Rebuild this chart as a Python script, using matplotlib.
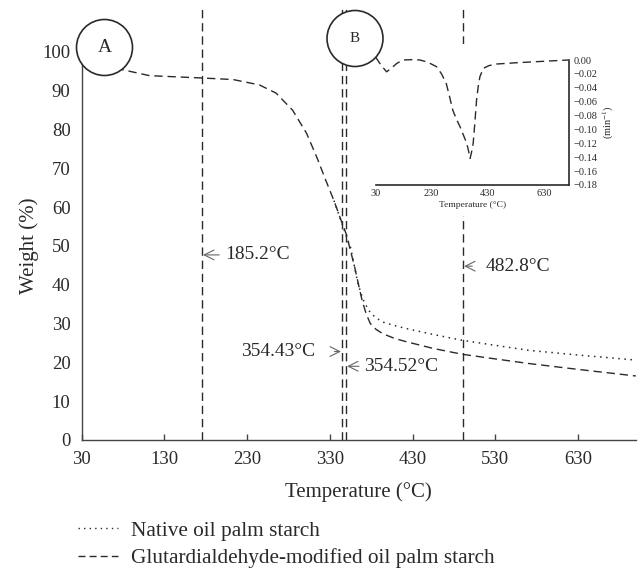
import numpy as np
import matplotlib.pyplot as plt
from matplotlib.patches import Ellipse, Rectangle
from matplotlib.lines import Line2D
from matplotlib.ticker import FuncFormatter

plt.rcParams['font.family'] = ['Liberation Serif', 'DejaVu Serif']
plt.rcParams['mathtext.fontset'] = 'stix'

# TGA curves (temperature in degC, weight in %)
temp_mod = [40, 60, 80, 112, 175, 213, 245, 265, 285, 302, 315, 325, 335, 343, 350,
            355, 360, 365, 369, 374, 379, 386, 394, 408, 423, 455, 490, 530, 571, 630, 700]
weight_mod = [97.5, 96.5, 95.4, 93.9, 93.3, 92.9, 91.5, 89.4, 85.0, 79.0, 72.5, 67.0, 61.7, 57.0, 53.0,
              48.8, 44.6, 39.8, 36.0, 32.5, 30.0, 28.5, 27.4, 26.2, 25.3, 23.6, 22.1, 20.9, 19.7, 18.2, 16.5]

temp_nat = [335, 345, 350, 355, 360, 364, 370, 377, 385, 394, 408, 423, 455, 490, 530, 571, 630, 700]
weight_nat = [61.7, 55.6, 52.5, 49.7, 44.5, 40.3, 36.3, 33.4, 31.6, 30.4, 29.5, 28.7, 27.2, 25.7, 24.4, 23.1, 21.9, 20.6]

# DTG inset
temp_dtg = [30, 50, 69, 85, 105, 127, 160, 188, 215, 247, 265, 282, 295, 305, 318, 331, 343,
            355, 362, 367, 372, 378, 384, 390, 396, 402, 414, 435, 461, 530, 605, 718]
dtg = [0.004, -0.008, -0.017, -0.012, -0.005, 0.0, 0.0005, 0.0, -0.003, -0.0096, -0.020, -0.034, -0.055,
       -0.072, -0.085, -0.096, -0.108, -0.120, -0.132, -0.1417, -0.133, -0.120, -0.090, -0.058, -0.038,
       -0.024, -0.012, -0.008, -0.0058, -0.004, -0.0024, 0.0]

# marked temperatures: drawn position and printed label
vline_pos = [175.0, 345.2, 349.2, 490.7]
vline_labels = ['185.2°C', '354.43°C', '354.52°C', '482.8°C']

W, H = 638, 569
fig = plt.figure(figsize=(W / 100, H / 100), dpi=100)

def fx(px):
    return px / W

def fy(py):
    return 1 - py / H

ax = fig.add_axes([fx(81.7), fy(440), fx(635.8) - fx(81.7), fy(9.3) - fy(440)])
ax.set_zorder(0)
ink = '#2a2a2a'

ax.plot(temp_mod, weight_mod, color=ink, lw=1.0, dashes=(6, 3.5))
ax.plot(temp_nat, weight_nat, color=ink, lw=1.1, linestyle=(0, (1, 3)))
for p in vline_pos:
    ax.axvline(p, color=ink, lw=1.0, dashes=(6, 3.5))

ax.set_xlim(30, 700)
ax.set_ylim(0, 111)
ax.set_xticks(np.arange(30, 631, 100))
ax.set_yticks(np.arange(0, 101, 10))
ax.spines['top'].set_visible(False)
ax.spines['right'].set_visible(False)
ax.spines['left'].set_bounds(0, 100)
for s in ['left', 'bottom']:
    ax.spines[s].set_color('#444444')
    ax.spines[s].set_linewidth(1.0)
ax.tick_params(axis='x', direction='in', length=4, width=1, color='#444444',
               labelsize=13.5, pad=8, labelcolor=ink)
ax.tick_params(axis='y', length=0, labelsize=13.5, pad=8, labelcolor=ink)
ax.set_xlabel('Temperature (°C)', fontsize=15, color=ink, labelpad=10)
ax.set_ylabel('Weight (%)', fontsize=15, color=ink)
ax.yaxis.set_label_coords(-0.077, 50 / 111)

def arrow(gap):
    return dict(arrowstyle='->,head_length=0.5,head_width=0.25', color='#666666', lw=0.8,
                shrinkA=gap, shrinkB=1)

ax.annotate(vline_labels[0], xy=(vline_pos[0], 47.7), xytext=(203, 47.7),
            ha='left', va='center', fontsize=14, color=ink, arrowprops=arrow(2))
ax.annotate(vline_labels[1], xy=(vline_pos[1], 22.8), xytext=(312, 22.8),
            ha='right', va='center', fontsize=14, color=ink, arrowprops=arrow(12))
ax.annotate(vline_labels[2], xy=(vline_pos[2], 19.0), xytext=(372, 19.0),
            ha='left', va='center', fontsize=14, color=ink, arrowprops=arrow(2))
ax.annotate(vline_labels[3], xy=(vline_pos[3], 44.8), xytext=(519, 44.8),
            ha='left', va='center', fontsize=14, color=ink, arrowprops=arrow(8))

# white mask behind the inset
fig.add_artist(Rectangle((fx(372), fy(216)), fx(615) - fx(372), fy(44) - fy(216),
                         transform=fig.transFigure, facecolor='white', edgecolor='none', zorder=1))

ins = fig.add_axes([fx(375.7), fy(185), fx(569) - fx(375.7), fy(60) - fy(185)])
ins.set_zorder(2)
ins.patch.set_alpha(0)
ins.plot(temp_dtg, dtg, color=ink, lw=1.0, dashes=(6, 3.5), clip_on=False)
ins.set_xlim(30, 720)
ins.set_ylim(-0.18, 0.0)
ins.set_xticks([30, 230, 430, 630])
ins.set_yticks(np.arange(-0.18, 0.001, 0.02))
ins.yaxis.set_major_formatter(FuncFormatter(
    lambda v, _: '0.00' if abs(v) < 1e-9 else f'{v:.2f}'.replace('-', '\u2212')))
ins.yaxis.tick_right()
ins.yaxis.set_label_position('right')
ins.spines['top'].set_visible(False)
ins.spines['left'].set_visible(False)
for s in ['right', 'bottom']:
    ins.spines[s].set_color(ink)
    ins.spines[s].set_linewidth(1.2)
ins.tick_params(length=0, labelsize=7.5, pad=3, labelcolor=ink)
ins.set_xlabel('Temperature (°C)', fontsize=6.8, color=ink, labelpad=2)
ins.set_ylabel('(min$^{-1}$)', fontsize=7.5, color=ink, labelpad=3)

# circled panel letters
for cx, cy, letter, size in [(104.5, 47.5, 'A', 14), (355, 38.5, 'B', 11)]:
    fig.add_artist(Ellipse((fx(cx), fy(cy)), 56 / W, 56 / H, transform=fig.transFigure,
                           facecolor='white', edgecolor=ink, lw=1.2, zorder=3))
    fig.text(fx(cx), fy(cy), letter, ha='center', va='center', fontsize=size, color=ink, zorder=4)

handles = [Line2D([], [], color=ink, lw=1.0, linestyle=(0, (1, 3))),
           Line2D([], [], color=ink, lw=1.0, dashes=(5, 3))]
fig.legend(handles, ['Native oil palm starch', 'Glutardialdehyde-modified oil palm starch'],
           loc='upper left', bbox_to_anchor=(fx(78), fy(521)), frameon=False,
           fontsize=15.3, handlelength=1.9, handletextpad=0.6, labelspacing=0.35,
           borderpad=0, borderaxespad=0, labelcolor=ink)

fig.savefig('out.png', dpi=100)
